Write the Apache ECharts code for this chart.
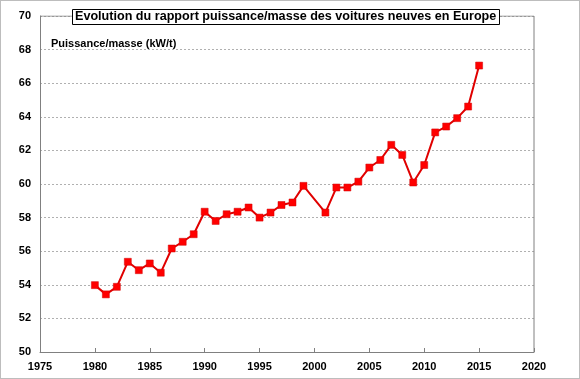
<!DOCTYPE html>
<html><head><meta charset="utf-8">
<script src="https://cdn.jsdelivr.net/npm/echarts@6/dist/echarts.min.js"></script>
<style>html,body{margin:0;padding:0;background:#fff}#c{width:580px;height:379px;box-sizing:border-box;border:1px solid #bdbdbd}</style>
</head><body><div id="c"></div>
<script>
const years = [1980,1981,1982,1983,1984,1985,1986,1987,1988,1989,1990,1991,1992,1993,1994,1995,1996,1997,1998,1999,2001,2002,2003,2004,2005,2006,2007,2008,2009,2010,2011,2012,2013,2014,2015];
const values = [53.98,53.43,53.88,55.37,54.87,55.27,54.72,56.16,56.56,57.01,58.35,57.8,58.2,58.35,58.6,58.0,58.3,58.75,58.9,59.89,58.3,59.79,59.79,60.14,60.98,61.43,62.33,61.73,60.09,61.13,63.07,63.42,63.92,64.61,67.05];
const titleText = 'Evolution du rapport puissance/masse des voitures neuves en Europe';
const unitText = 'Puissance/masse (kW/t)';

const chart = echarts.init(document.getElementById('c'), null, {renderer:'canvas'});
const font = 'Liberation Sans, Arial, sans-serif';
chart.setOption({
  animation:false,
  title:{text:titleText,left:71,top:8,padding:[1,3,2,3],backgroundColor:'#fff',borderColor:'#000',borderWidth:1,
    textStyle:{fontFamily:font,fontSize:12.6,lineHeight:13,fontWeight:'bold',color:'#000'}},
  graphic:[{type:'text',left:50,top:37,style:{text:unitText,font:'bold 11px '+font,fill:'#000'}}],
  grid:{left:39,right:45,top:15,bottom:26},
  xAxis:{type:'value',min:1975,max:2020,interval:5,
    axisLine:{lineStyle:{color:'#808080',width:1}},
    axisTick:{inside:true,length:4,lineStyle:{color:'#808080'}},
    axisLabel:{fontFamily:font,fontSize:11,fontWeight:'bold',color:'#000',margin:9,formatter:v=>String(v)},
    splitLine:{show:false}},
  yAxis:{type:'value',min:50,max:70,interval:2,
    axisLine:{show:true,lineStyle:{color:'#808080',width:1}},
    axisTick:{show:false},
    axisLabel:{fontFamily:font,fontSize:11,fontWeight:'bold',color:'#000',margin:9},
    splitLine:{show:true,lineStyle:{color:'#b0b0b0',type:[2,2],width:1}}},
  series:[
    {type:'line',data:years.map((y,i)=>[y,values[i]]),symbol:'rect',symbolSize:7,
     lineStyle:{color:'#e00000',width:2},itemStyle:{color:'#ff0000',borderColor:'#d00000',borderWidth:0.5}},
    {type:'line',data:[[1975,70],[2020,70]],symbol:'none',lineStyle:{color:'#808080',width:1},silent:true,z:1},
    {type:'line',data:[[2020,50],[2020,70]],symbol:'none',lineStyle:{color:'#808080',width:1},silent:true,z:1}
  ]
});
</script></body></html>
